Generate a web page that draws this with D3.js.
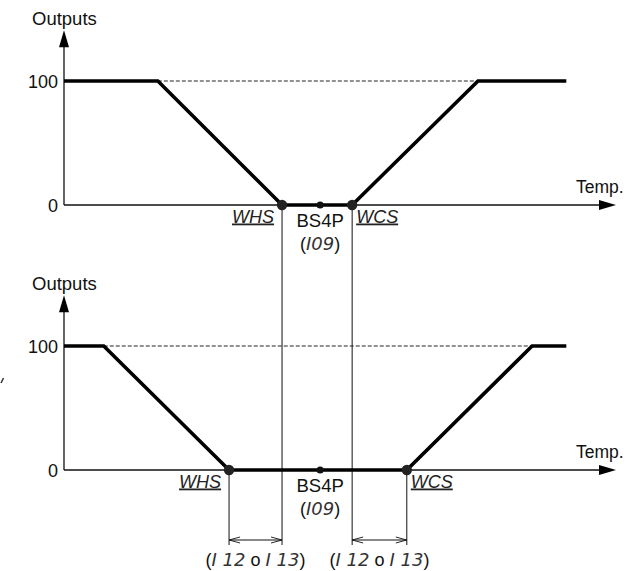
<!DOCTYPE html>
<html>
<head>
<meta charset="utf-8">
<script src="https://cdn.jsdelivr.net/npm/d3@7"></script>
<style>
  html, body { margin: 0; padding: 0; background: #fff; }
  svg text { font-family: "Liberation Sans", Arial, sans-serif; fill: #111; }
  .code { font-family: "DejaVu Sans", sans-serif; font-style: italic; font-weight: 200; fill: #333; }
  .uline { text-decoration: underline; font-style: italic; fill: #222; }
</style>
</head>
<body>
<svg id="chart" width="627" height="571"></svg>
<script>
// Output levels (%) shown on each vertical axis
const outputTicks = [0, 100];
const yAxisTop = 141;     // output value where the vertical arrow ends
const xAxisEnd = 100;     // temperature value where the horizontal arrow ends

// Temperature / output break points of the two control curves
const curveTop = [[0, 100], [17, 100], [39.5, 0], [52.2, 0], [75, 100], [91, 100]];
const curveBottom = [[0, 100], [7.2, 100], [29.9, 0], [62.1, 0], [84.8, 100], [91, 100]];

// Setpoint and the heating / cooling switch points
const setpoint = 46.4;
const whsTop = 39.5, wcsTop = 52.2;
const whsBottom = 29.9, wcsBottom = 62.1;

const axisLabelY = "Outputs";
const axisLabelX = "Temp.";
const setpointLabel = "BS4P";
const setpointCode = ["(", "I09", ")"];
// parameter codes are drawn in the display style, connectors in plain text
const offsetLabel = [["(", false], ["I 12", true], [" o ", false], ["I 13", true], [")", false]];

const FS = 17.5;
const svg = d3.select("#chart");

const x = d3.scaleLinear().domain([0, xAxisEnd]).range([64, 616]);

const panels = [
  { curve: curveTop, whs: whsTop, wcs: wcsTop, y: d3.scaleLinear().domain([0, 100]).range([205, 81]) },
  { curve: curveBottom, whs: whsBottom, wcs: wcsBottom, y: d3.scaleLinear().domain([0, 100]).range([470, 346]) }
];

// vertical guide lines linking the switch points with the offset dimensions
const guideBottom = 545;
[whsTop, wcsTop].forEach(v => {
  svg.append("line")
    .attr("x1", x(v)).attr("x2", x(v))
    .attr("y1", panels[0].y(0)).attr("y2", guideBottom)
    .attr("stroke", "#111").attr("stroke-width", 1);
});
[whsBottom, wcsBottom].forEach(v => {
  svg.append("line")
    .attr("x1", x(v)).attr("x2", x(v))
    .attr("y1", panels[1].y(0)).attr("y2", guideBottom)
    .attr("stroke", "#111").attr("stroke-width", 1);
});

function codeText(sel, parts) {
  parts.forEach(([t, isCode]) => {
    const ts = sel.append("tspan").text(t);
    if (isCode) ts.attr("class", "code");
  });
}

panels.forEach(p => {
  const g = svg.append("g");
  const y = p.y;

  // dashed 100% reference line between the two plateaus
  const plateauL = p.curve[1][0], plateauR = p.curve[4][0];
  g.append("line")
    .attr("x1", x(plateauL)).attr("x2", x(plateauR))
    .attr("y1", y(100)).attr("y2", y(100))
    .attr("stroke", "#222").attr("stroke-width", 1)
    .attr("stroke-dasharray", "4,2");

  // axes
  g.append("line")
    .attr("x1", x(0)).attr("x2", x(0))
    .attr("y1", y(0)).attr("y2", y(yAxisTop) + 14)
    .attr("stroke", "#111").attr("stroke-width", 1.3);
  g.append("line")
    .attr("x1", x(0)).attr("x2", x(xAxisEnd) - 14)
    .attr("y1", y(0)).attr("y2", y(0))
    .attr("stroke", "#111").attr("stroke-width", 1.3);

  // arrow heads
  const ty = y(yAxisTop), tx = x(xAxisEnd);
  g.append("path")
    .attr("d", `M${x(0)},${ty} L${x(0) - 5},${ty + 17} L${x(0) + 5},${ty + 17} Z`)
    .attr("fill", "#000");
  g.append("path")
    .attr("d", `M${tx},${y(0)} L${tx - 17},${y(0) - 5} L${tx - 17},${y(0) + 5} Z`)
    .attr("fill", "#000");

  // tick labels
  outputTicks.forEach(t => {
    g.append("text")
      .attr("x", x(0) - 6).attr("y", y(t))
      .attr("dy", "0.37em")
      .attr("text-anchor", "end")
      .attr("font-size", 18)
      .text(t);
  });
  g.append("text")
    .attr("x", x(0) - 32).attr("y", y(yAxisTop) - 5.5)
    .attr("font-size", 18.5)
    .text(axisLabelY);
  g.append("text")
    .attr("x", x(xAxisEnd) - 40).attr("y", y(0) - 12.5)
    .attr("font-size", FS)
    .text(axisLabelX);

  // control curve
  g.append("path")
    .datum(p.curve)
    .attr("d", d3.line().x(d => x(d[0])).y(d => y(d[1])))
    .attr("fill", "none")
    .attr("stroke", "#000")
    .attr("stroke-width", 3.6)
    .attr("stroke-linejoin", "miter");

  // switch points and setpoint
  [p.whs, p.wcs].forEach(v => {
    g.append("circle").attr("cx", x(v)).attr("cy", y(0)).attr("r", 5.2).attr("fill", "#222");
  });
  g.append("circle").attr("cx", x(setpoint)).attr("cy", y(0)).attr("r", 3.6).attr("fill", "#111");

  g.append("text")
    .attr("class", "uline")
    .attr("x", x(p.whs) - 8).attr("y", y(0) + 17.5)
    .attr("text-anchor", "end").attr("font-size", 18)
    .text("WHS");
  g.append("text")
    .attr("class", "uline")
    .attr("x", x(p.wcs) + 4).attr("y", y(0) + 17.5)
    .attr("text-anchor", "start").attr("font-size", 18)
    .text("WCS");
  g.append("text")
    .attr("x", x(setpoint)).attr("y", y(0) + 22)
    .attr("text-anchor", "middle").attr("font-size", 18.5)
    .text(setpointLabel);
  const sc = g.append("text")
    .attr("x", x(setpoint)).attr("y", y(0) + 45)
    .attr("text-anchor", "middle").attr("font-size", 18);
  codeText(sc, [[setpointCode[0], false], [setpointCode[1], true], [setpointCode[2], false]]);
});

// offset dimension arrows below the lower chart
const dimY = 540;
const dims = [[whsBottom, whsTop], [wcsTop, wcsBottom]];
dims.forEach(([a, b]) => {
  const x1 = x(a), x2 = x(b);
  svg.append("line").attr("x1", x1).attr("x2", x2).attr("y1", dimY).attr("y2", dimY)
    .attr("stroke", "#111").attr("stroke-width", 1);
  svg.append("path")
    .attr("d", `M${x1 + 11},${dimY - 3} L${x1},${dimY} L${x1 + 11},${dimY + 3}`)
    .attr("fill", "none").attr("stroke", "#111").attr("stroke-width", 0.9);
  svg.append("path")
    .attr("d", `M${x2 - 11},${dimY - 3} L${x2},${dimY} L${x2 - 11},${dimY + 3}`)
    .attr("fill", "none").attr("stroke", "#111").attr("stroke-width", 0.9);
  const t = svg.append("text")
    .attr("x", (x1 + x2) / 2).attr("y", dimY + 26)
    .attr("text-anchor", "middle").attr("font-size", 18);
  codeText(t, offsetLabel);
});

// small stroke at the left margin
svg.append("path").attr("d", "M3.5,378 L1,383").attr("stroke", "#333").attr("stroke-width", 1.5);
</script>
</body>
</html>
